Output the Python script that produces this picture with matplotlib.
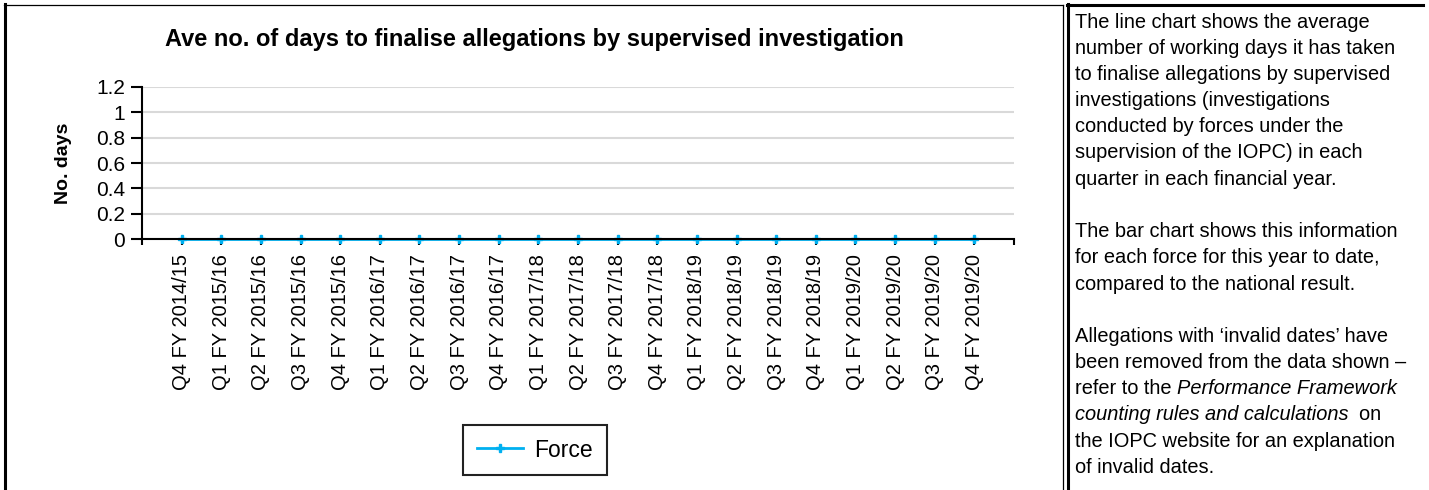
import matplotlib
matplotlib.use("Agg")
import matplotlib.pyplot as plt
from matplotlib.lines import Line2D

# data
quarters = ["Q4 FY 2014/15",
            "Q1 FY 2015/16", "Q2 FY 2015/16", "Q3 FY 2015/16", "Q4 FY 2015/16",
            "Q1 FY 2016/17", "Q2 FY 2016/17", "Q3 FY 2016/17", "Q4 FY 2016/17",
            "Q1 FY 2017/18", "Q2 FY 2017/18", "Q3 FY 2017/18", "Q4 FY 2017/18",
            "Q1 FY 2018/19", "Q2 FY 2018/19", "Q3 FY 2018/19", "Q4 FY 2018/19",
            "Q1 FY 2019/20", "Q2 FY 2019/20", "Q3 FY 2019/20", "Q4 FY 2019/20"]
force_days = [0, 0, 0, 0, 0, 0, 0, 0, 0, 0, 0, 0, 0, 0, 0, 0, 0, 0, 0, 0, 0]
y_ticks = [0, 0.2, 0.4, 0.6, 0.8, 1.0, 1.2]
y_tick_labels = ["0", "0.2", "0.4", "0.6", "0.8", "1", "1.2"]

title = "Ave no. of days to finalise allegations by supervised investigation"
y_label = "No. days"
series_label = "Force"

# right-hand notes: (line step, [(text, italic), ...])
notes = [
    (0, [("The line chart shows the average", False)]),
    (1, [("number of working days it has taken", False)]),
    (2, [("to finalise allegations by supervised", False)]),
    (3, [("investigations (investigations", False)]),
    (4, [("conducted by forces under the", False)]),
    (5, [("supervision of the IOPC) in each", False)]),
    (6, [("quarter in each financial year.", False)]),
    (8, [("The bar chart shows this information", False)]),
    (9, [("for each force for this year to date,", False)]),
    (10, [("compared to the national result.", False)]),
    (12, [("Allegations with \u2018invalid dates\u2019 have", False)]),
    (13, [("been removed from the data shown \u2013", False)]),
    (14, [("refer to the ", False), ("Performance Framework", True)]),
    (15, [("counting rules and calculations", True), ("  on", False)]),
    (16, [("the IOPC website for an explanation", False)]),
    (17, [("of invalid dates.", False)]),
]

W, H = 1429, 490
plt.rcParams["font.family"] = ["Liberation Sans", "DejaVu Sans"]
fig = plt.figure(figsize=(W / 100, H / 100), dpi=100)


def fx(px):
    return px / W


def fy(py):
    return 1 - py / H


ax = fig.add_axes([fx(142), fy(239), fx(1014) - fx(142), fy(87) - fy(239)])
x = list(range(1, len(quarters) + 1))
ax.plot(x, force_days, color="#00B0F0", lw=2, marker="P", ms=5.5,
        label=series_label, clip_on=False, zorder=2.2)
ax.set_xlim(0, len(quarters) + 1)
ax.set_ylim(0, 1.2)
ax.set_xticks(x)
ax.set_xticklabels(quarters, rotation=90, fontsize=14.5)
ax.set_xticks([0, len(quarters) + 1], minor=True)
ax.tick_params(axis="x", which="both", direction="out", length=4,
               width=1.5, pad=7)
ax.set_yticks(y_ticks)
ax.set_yticklabels(y_tick_labels, fontsize=15)
ax.tick_params(axis="y", direction="out", length=8, width=1.5, pad=4)
ax.yaxis.grid(True, color="#D9D9D9", lw=1.5)
ax.set_axisbelow(True)
for side in ["top", "right"]:
    ax.spines[side].set_visible(False)
for side in ["left", "bottom"]:
    ax.spines[side].set_linewidth(1.5)

fig.text(fx(534.5), fy(46), title, ha="center", va="baseline",
         fontsize=17, fontweight="bold")
fig.text(fx(64), fy(163), y_label, rotation=90, ha="center", va="center",
         fontsize=14, fontweight="bold")

leg = ax.legend(loc="center", bbox_to_anchor=(fx(535), fy(450)),
                bbox_transform=fig.transFigure, fontsize=16.5, fancybox=False,
                edgecolor="#222222", framealpha=1, handlelength=2.0,
                handletextpad=0.5, borderpad=0.6, borderaxespad=0)
leg.get_frame().set_linewidth(1.5)

# notes panel, one text object per line
for step, parts in notes:
    base = 27.5 + 26.2 * step
    prev = None
    for txt, italic in parts:
        style = "italic" if italic else "normal"
        if prev is None:
            prev = fig.text(fx(1075), fy(base), txt, ha="left", va="baseline",
                            fontsize=14.4, fontstyle=style)
        else:
            prev = ax.annotate(txt, xy=(1, 0), xycoords=prev, ha="left",
                               va="bottom", fontsize=14.4, fontstyle=style,
                               annotation_clip=False)

# page borders
borders = [
    ((5, 5), (4, H), 2.2),
    ((4, 1063), (5, 5), 0.9),
    ((1063, 1063), (5, H), 0.9),
    ((1068, 1068), (4, H), 2.2),
    ((1067, 1423), (5, 5), 2.2),
]
for xs, ys, lw in borders:
    fig.add_artist(Line2D([fx(v) for v in xs], [fy(v) for v in ys],
                          color="black", lw=lw, transform=fig.transFigure))

plt.savefig("out.png", dpi=100)
